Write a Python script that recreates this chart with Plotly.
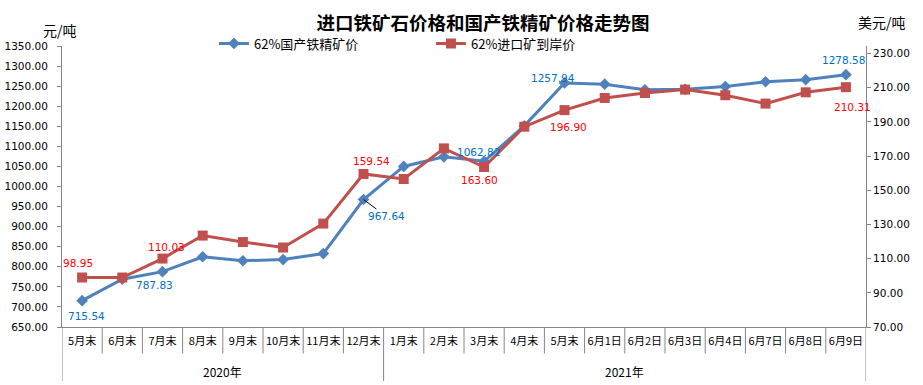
import plotly.graph_objects as go

# ---------------- data ----------------
categories = ["5月末", "6月末", "7月末", "8月末", "9月末", "10月末", "11月末", "12月末",
              "1月末", "2月末", "3月末", "4月末", "5月末", "6月1日", "6月2日", "6月3日",
              "6月4日", "6月7日", "6月8日", "6月9日"]
year_groups = ["2020年", "2021年"]
year_counts = [8, 12]

domestic_name = "62%国产铁精矿价"
domestic = [715.54, 769.0, 787.83, 825.0, 815.0, 818.0, 833.0, 967.64, 1050.0, 1074.0,
            1062.82, 1151.0, 1257.94, 1255.0, 1241.0, 1242.0, 1249.0, 1261.0, 1266.0, 1278.58]

imported_name = "62%进口矿到岸价"
imported = [98.95, 98.95, 110.03, 123.5, 119.7, 116.5, 130.5, 159.54, 156.6, 174.5,
            163.60, 187.2, 196.90, 204.0, 206.9, 208.9, 205.6, 200.7, 207.3, 210.31]

left_ticks = list(range(650, 1351, 50))
right_ticks = list(range(70, 231, 20))

# labelled points: (index, xshift, yshift)
domestic_labels = [(0, 4, -15), (2, -8, -13), (10, -6, 9), (12, -12, 5), (19, -2, 15)]
imported_labels = [(0, -4, 15), (2, 4, 12), (7, 8, 13), (10, -5, -13), (12, 4, -17), (19, 7, -20)]
arrow_label = (7, 23, 17)

# ---------------- styling ----------------
BLUE = "#4F81BD"
RED = "#C0504D"
AXIS = "#868686"
CJK = "Noto Sans CJK SC"
NUM = "DejaVu Sans"

W, H = 923, 385
ML, MR, MT, MB = 62, 57, 46, 58
PW, PH = W - ML - MR, H - MT - MB


def px_x(px):
    return (px - ML) / PW


def px_y(py):
    return (H - MB - py) / PH


x = list(range(len(categories)))

fig = go.Figure()
fig.add_trace(go.Scatter(
    x=x, y=domestic, name=domestic_name, mode="lines+markers",
    line=dict(color=BLUE, width=3),
    marker=dict(symbol="diamond", size=9, color=BLUE),
    yaxis="y", cliponaxis=False))
fig.add_trace(go.Scatter(
    x=x, y=imported, name=imported_name, mode="lines+markers",
    line=dict(color=RED, width=3),
    marker=dict(symbol="square", size=10, color=RED),
    yaxis="y2", cliponaxis=False))

annotations = []
for i, xs, ys in domestic_labels:
    annotations.append(dict(x=x[i], y=domestic[i], xref="x", yref="y",
                            text=f"{domestic[i]:.2f}", showarrow=False,
                            xshift=xs, yshift=ys,
                            font=dict(family=NUM, size=10.5, color="#0070C0")))
for i, xs, ys in imported_labels:
    annotations.append(dict(x=x[i], y=imported[i], xref="x", yref="y2",
                            text=f"{imported[i]:.2f}", showarrow=False,
                            xshift=xs, yshift=ys,
                            font=dict(family=NUM, size=10.5, color="#FF0000")))
ai, aax, aay = arrow_label
annotations.append(dict(x=x[ai], y=domestic[ai], xref="x", yref="y",
                        text=f"{domestic[ai]:.2f}", showarrow=True,
                        arrowhead=0, arrowwidth=1, arrowcolor="black",
                        ax=aax, ay=aay,
                        font=dict(family=NUM, size=10.5, color="#0070C0")))

# year group labels and separators
shapes = []
start = 0
for name, cnt in zip(year_groups, year_counts):
    annotations.append(dict(x=start + (cnt - 1) / 2, y=px_y(371), xref="x", yref="paper",
                            text=name, showarrow=False, yanchor="middle",
                            font=dict(family=CJK, size=12, color="black")))
    start += cnt
bounds = [0]
for cnt in year_counts:
    bounds.append(bounds[-1] + cnt)
for b in range(len(categories) + 1):
    long = b in bounds
    shapes.append(dict(type="line", xref="x", yref="paper",
                       x0=b - 0.5, x1=b - 0.5, y0=0, y1=px_y(381) if long else px_y(353.5),
                       line=dict(color=AXIS, width=1)))

# axis unit labels
annotations.append(dict(x=px_x(60), y=px_y(30), xref="paper", yref="paper",
                        text="元/吨", showarrow=False, xanchor="center", yanchor="middle",
                        font=dict(family=CJK, size=14, color="black")))
annotations.append(dict(x=px_x(882), y=px_y(22), xref="paper", yref="paper",
                        text="美元/吨", showarrow=False, xanchor="center", yanchor="middle",
                        font=dict(family=CJK, size=14, color="black")))

fig.update_layout(
    width=W, height=H,
    margin=dict(l=ML, r=MR, t=MT, b=MB, autoexpand=False),
    paper_bgcolor="white", plot_bgcolor="white",
    title=dict(text="<b>进口铁矿石价格和国产铁精矿价格走势图</b>",
               x=483 / W, y=1 - 23.5 / H, xref="container", yref="container",
               xanchor="center", yanchor="middle",
               font=dict(family=CJK, size=18.5, color="black")),
    legend=dict(orientation="h", x=0.189, y=px_y(43.5), xanchor="left", yanchor="middle",
                font=dict(family=CJK, size=13, color="black"),
                entrywidth=172, entrywidthmode="pixels",
                bgcolor="rgba(0,0,0,0)"),
    xaxis=dict(range=[-0.5, len(categories) - 0.5], tickvals=x, ticktext=categories,
               tickangle=0, ticks="", showline=True, linecolor=AXIS, linewidth=1,
               showgrid=False, zeroline=False, ticklabelstandoff=4,
               tickfont=dict(family=CJK, size=11, color="black")),
    yaxis=dict(range=[650, 1350], tickvals=left_ticks, tickformat=".2f",
               ticks="outside", ticklen=4, tickcolor=AXIS, showline=True,
               linecolor=AXIS, linewidth=1, showgrid=False, zeroline=False,
               ticklabelstandoff=7,
               tickfont=dict(family=NUM, size=10.5, color="black")),
    yaxis2=dict(range=[70, 234.4], tickvals=right_ticks, tickformat=".2f",
                overlaying="y", side="right",
                ticks="outside", ticklen=4, tickcolor=AXIS, showline=True,
                linecolor=AXIS, linewidth=1, showgrid=False, zeroline=False,
                tickfont=dict(family=NUM, size=10.5, color="black")),
    annotations=annotations,
    shapes=shapes,
    showlegend=True,
)

fig.write_html("out.html", config={"displayModeBar": False},
               post_script="document.body.style.margin='0';")
